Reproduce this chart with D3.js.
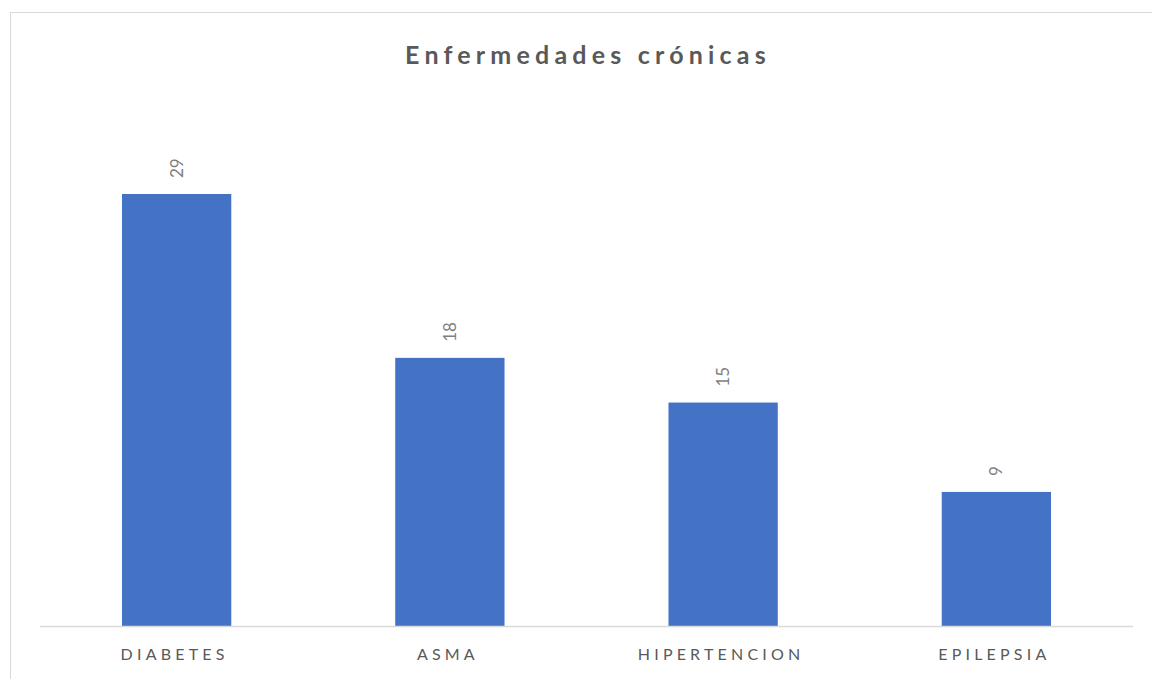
<!DOCTYPE html>
<html>
<head>
<meta charset="utf-8">
<script src="https://cdn.jsdelivr.net/npm/d3@7"></script>
<style>
  body { margin: 0; background: #fff; }
  svg { display: block; }
</style>
</head>
<body>
<div id="chart"></div>
<script>
const categories = ["DIABETES", "ASMA", "HIPERTENCION", "EPILEPSIA"];
const values = [29, 18, 15, 9];
const title = "Enfermedades crónicas";

const width = 1152, height = 679;
const margin = {top: 194, right: 19, bottom: 53, left: 40};
const font = "Lato, 'Open Sans', 'Liberation Sans', sans-serif";

const svg = d3.select("#chart")
  .append("svg")
  .attr("width", width)
  .attr("height", height);

// chart frame (only left/top edges visible)
svg.append("rect")
  .attr("x", 10.5)
  .attr("y", 12.5)
  .attr("width", width + 20)
  .attr("height", height + 20)
  .attr("fill", "none")
  .attr("stroke", "#d9d9d9")
  .attr("stroke-width", 1);

let x = d3.scaleBand()
  .domain(categories)
  .range([margin.left, width - margin.right])
  .paddingInner(0.6)
  .paddingOuter(0.3);

let y = d3.scaleLinear()
  .domain([0, 29])
  .range([height - margin.bottom, margin.top]);

svg.append("text")
  .attr("x", 588)
  .attr("y", 64)
  .attr("text-anchor", "middle")
  .style("font-family", font)
  .style("font-size", "25px")
  .style("font-weight", "bold")
  .style("letter-spacing", "5.2px")
  .style("fill", "#595959")
  .text(title);

svg.append("g")
  .selectAll("rect")
  .data(values)
  .enter().append("rect")
    .attr("x", (d, i) => x(categories[i]))
    .attr("y", d => y(d))
    .attr("width", x.bandwidth())
    .attr("height", d => y(0) - y(d))
    .attr("fill", "#4472c4");

// value labels, rotated
svg.append("g")
  .selectAll("text")
  .data(values)
  .enter().append("text")
    .attr("transform", (d, i) => `translate(${x(categories[i]) + x.bandwidth() / 2 + 6},${y(d) - 16}) rotate(-90)`)
    .attr("text-anchor", "start")
    .style("font-family", font)
    .style("font-size", "17px")
    .style("fill", "#7f7f7f")
    .text(d => d);

let xAxis = g => g
  .attr("transform", `translate(0,${y(0) + 0.5})`)
  .call(d3.axisBottom(x).tickSize(0).tickPadding(22).tickSizeOuter(0))
  .call(g => g.select(".domain").attr("stroke", "#d9d9d9").attr("stroke-width", 1.5)
    .attr("d", `M${margin.left},0H${width - margin.right}`))
  .call(g => g.selectAll("text")
    .attr("dx", "-2px")
    .style("font-family", font)
    .style("font-size", "16px")
    .style("letter-spacing", "4.2px")
    .style("fill", "#595959"));

svg.append("g").call(xAxis);
</script>
</body>
</html>
